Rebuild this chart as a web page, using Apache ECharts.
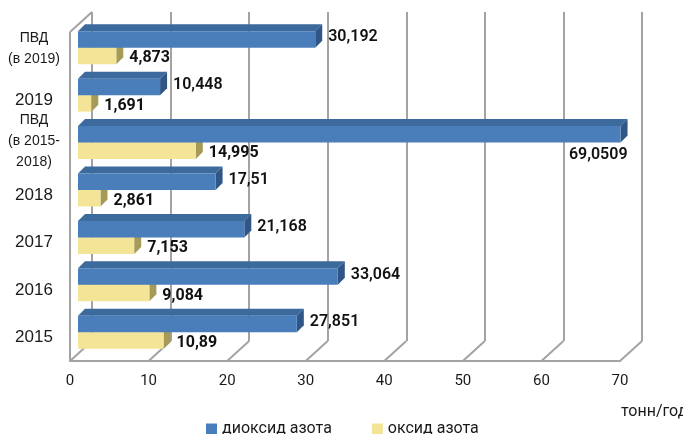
<!DOCTYPE html>
<html>
<head>
<meta charset="utf-8">
<script src="https://cdn.jsdelivr.net/npm/echarts@6/dist/echarts.min.js"></script>
<style>
  html, body { margin: 0; padding: 0; background: #fff; }
  #chart { width: 683px; height: 434px; }
</style>
</head>
<body>
<div id="chart"></div>
<script>
// categories bottom -> top
const categories = ['2015', '2016', '2017', '2018', 'ПВД\n(в 2015-\n2018)', '2019', 'ПВД\n(в 2019)']
const no2Values = [27.851, 33.064, 21.168, 17.51, 69.0509, 10.448, 30.192]
const noValues  = [10.89, 9.084, 7.153, 2.861, 14.995, 1.691, 4.873]
const xTicks = [0, 10, 20, 30, 40, 50, 60, 70]
const seriesNames = ['диоксид азота', 'оксид азота']

const gridCol = '#a3a3a3'
const depthX = 22, depthY = 20     // wall depth
const bev = 7                      // bar bevel
const barShift = 8                 // bars sit a bit behind the front plane

const fmt = v => String(v).replace('.', ',')

const palette = {
  no2: { front: '#4a7ebb', top: '#3d6a9d', side: '#2f5686', label: 600 },
  no:  { front: '#f4e497', top: '#d8c777', side: '#a59a58', label: 700 }
}

const makeBar = (kind) => (params, api) => {
  const v = api.value(0), ci = api.value(1)
  const c = api.coord([0, ci])
  const e = api.coord([v, ci])
  const x0 = c[0] + barShift, x1 = e[0] + barShift
  const yt = kind === 'no2' ? c[1] - 21.5 : c[1] - 5
  const yb = kind === 'no2' ? c[1] - 5 : c[1] + 11.5
  const col = palette[kind]
  const right = params.coordSys.x + params.coordSys.width
  const txt = fmt(v)
  const font = `${col.label} 16px Roboto, sans-serif`
  let label
  if (x1 + bev + 80 > right + 20) {
    // no room on the right: put it under the bar
    label = { type: 'text', style: { text: txt, x: x1 + bev, y: yb + 4, align: 'right', verticalAlign: 'top', font, fill: '#111' } }
  } else {
    label = { type: 'text', style: { text: txt, x: x1 + bev + 6, y: (yt + yb) / 2 + (kind === 'no2' ? -2 : 2.5),
      align: 'left', verticalAlign: 'middle', font, fill: '#111' } }
  }
  return {
    type: 'group',
    children: [
      { type: 'polygon', shape: { points: [[x0, yt], [x0 + bev, yt - bev], [x1 + bev, yt - bev], [x1, yt]] }, style: { fill: col.top } },
      { type: 'polygon', shape: { points: [[x1, yt], [x1 + bev, yt - bev], [x1 + bev, yb - bev], [x1, yb]] }, style: { fill: col.side } },
      { type: 'rect', shape: { x: x0, y: yt, width: x1 - x0, height: yb - yt }, style: { fill: col.front } },
      label
    ]
  }
}

const renderWall = (params, api) => {
  const v = api.value(0)
  const x = api.coord([v, 0])[0]
  const floorY = params.coordSys.y + params.coordSys.height
  const ls = { stroke: gridCol, lineWidth: 2 }
  const children = [
    { type: 'line', shape: { x1: x, y1: floorY, x2: x + depthX, y2: floorY - depthY }, style: ls }
  ]
  if (v === 0) {
    const topY = params.coordSys.y + 3
    children.push({ type: 'line', shape: { x1: x, y1: floorY, x2: x, y2: topY }, style: ls })
    children.push({ type: 'line', shape: { x1: x, y1: topY, x2: x + depthX, y2: topY - depthY }, style: ls })
  }
  return { type: 'group', children }
}

// multi-line ПВД labels sit a little above the band centre
const catLabel = (val) => {
  if (val.indexOf('ПВД') !== 0) return val
  const lines = val.split('\n')
  return lines.map(l => '{s|' + l + '}').join('\n') + '\n{g' + lines.length + '| }'
}

const chart = echarts.init(document.getElementById('chart'), null, { renderer: 'canvas' })

chart.setOption({
  animation: false,
  grid: [
    { left: 70, right: 63, top: 29, bottom: 73 },
    { left: 92, right: 41, top: 12, bottom: 93 }
  ],
  xAxis: [
    {
      type: 'value', gridIndex: 0, min: 0, max: 70, interval: 10,
      axisLine: { show: true, lineStyle: { color: gridCol, width: 2 } },
      axisTick: { show: false },
      splitLine: { show: false },
      axisLabel: { color: '#1a1a1a', fontSize: 15, fontFamily: 'Roboto, sans-serif', margin: 13 }
    },
    {
      type: 'value', gridIndex: 1, min: 0, max: 70, interval: 10,
      axisLine: { show: false }, axisTick: { show: false }, axisLabel: { show: false },
      splitLine: { show: true, lineStyle: { color: gridCol, width: 2 } }
    }
  ],
  yAxis: [
    {
      type: 'category', gridIndex: 0, data: categories,
      axisLine: { show: false }, axisTick: { show: false },
      axisLabel: {
        align: 'center', margin: 36, color: '#1a1a1a',
        fontFamily: 'Liberation Sans, Arial, sans-serif', fontSize: 17,
        formatter: catLabel,
        rich: {
          s: { fontSize: 14, lineHeight: 21, color: '#1a1a1a', fontFamily: 'Liberation Sans, Arial, sans-serif' },
          g2: { fontSize: 1, lineHeight: 9 },
          g3: { fontSize: 1, lineHeight: 12 }
        }
      }
    },
    { type: 'value', gridIndex: 1, show: false, min: 0, max: 1 }
  ],
  legend: {
    data: seriesNames,
    left: 201, top: 416,
    itemWidth: 11, itemHeight: 11, itemGap: 40,
    icon: 'rect',
    textStyle: { color: '#1a1a1a', fontSize: 16, fontFamily: 'Roboto, sans-serif' }
  },
  graphic: [
    { type: 'text', left: 621, top: 404, style: { text: 'тонн/год', fill: '#1a1a1a', font: '16px Roboto, sans-serif' } }
  ],
  series: [
    {
      type: 'custom', name: 'walls', xAxisIndex: 0, yAxisIndex: 0, z: 1, silent: true,
      renderItem: renderWall,
      data: xTicks.map(v => [v, 0])
    },
    {
      type: 'custom', name: seriesNames[1], xAxisIndex: 0, yAxisIndex: 0, z: 2,
      itemStyle: { color: palette.no.front },
      renderItem: makeBar('no'),
      encode: { x: 0, y: 1 },
      data: noValues.map((v, i) => [v, i])
    },
    {
      type: 'custom', name: seriesNames[0], xAxisIndex: 0, yAxisIndex: 0, z: 3,
      itemStyle: { color: palette.no2.front },
      renderItem: makeBar('no2'),
      encode: { x: 0, y: 1 },
      data: no2Values.map((v, i) => [v, i])
    }
  ]
})
</script>
</body>
</html>
